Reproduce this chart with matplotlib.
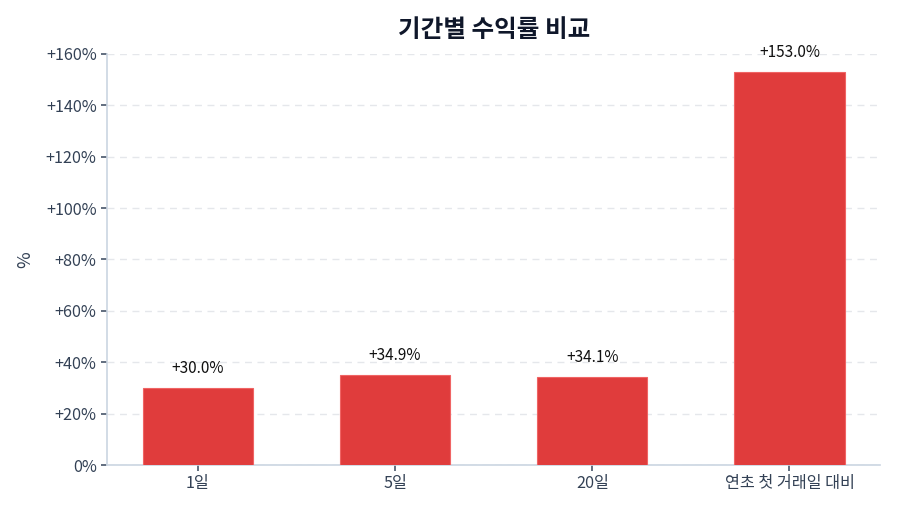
import matplotlib
matplotlib.use("Agg")
import matplotlib.pyplot as plt
from matplotlib.ticker import FuncFormatter
from matplotlib.transforms import blended_transform_factory

plt.rcParams['font.family'] = ['Noto Sans CJK KR', 'DejaVu Sans']

categories = ["1일", "5일", "20일", "연초 첫 거래일 대비"]
returns = [30.0, 34.9, 34.1, 153.0]
yticks = [0, 20, 40, 60, 80, 100, 120, 140, 160]

fig = plt.figure(figsize=(9, 5.14), dpi=100)
ax = fig.add_axes([0.119, 0.0953, 0.859, 0.7997])

x = list(range(len(categories)))
ax.bar(x, returns, width=0.56, color="#e03c3c", edgecolor="#f06464", linewidth=0.8, zorder=3)
for xi, v in zip(x, returns):
    ax.annotate(f"+{v:.1f}%", (xi, v), xytext=(0, 8), textcoords="offset points",
                ha="center", va="bottom", fontsize=11, color="#111111")

ax.set_xlim(-0.46, 3.46)
ax.set_ylim(0, 160)
ax.set_yticks(yticks)
ax.yaxis.set_major_formatter(FuncFormatter(lambda v, p: "0%" if v == 0 else f"+{v:.0f}%"))
ax.set_xticks(x)
ax.set_xticklabels(categories)
ax.tick_params(axis="both", colors="#475569", labelcolor="#334155", labelsize=11.7, length=4, width=1.2)
ax.grid(axis="y", linestyle=(0, (5, 4)), color="#e5e7eb", linewidth=1, zorder=0)
for s in ["top", "right"]:
    ax.spines[s].set_visible(False)
for s in ["left", "bottom"]:
    ax.spines[s].set_color("#cbd5e1")
    ax.spines[s].set_linewidth(1.2)
ax.set_ylabel("%", fontsize=13, color="#334155", labelpad=8)
ax.text(0.5, 0.942, "기간별 수익률 비교", fontsize=17.7, fontweight="bold", color="#0f172a",
        ha="center", va="center",
        transform=blended_transform_factory(ax.transAxes, fig.transFigure))

fig.savefig("out.png", dpi=100)
